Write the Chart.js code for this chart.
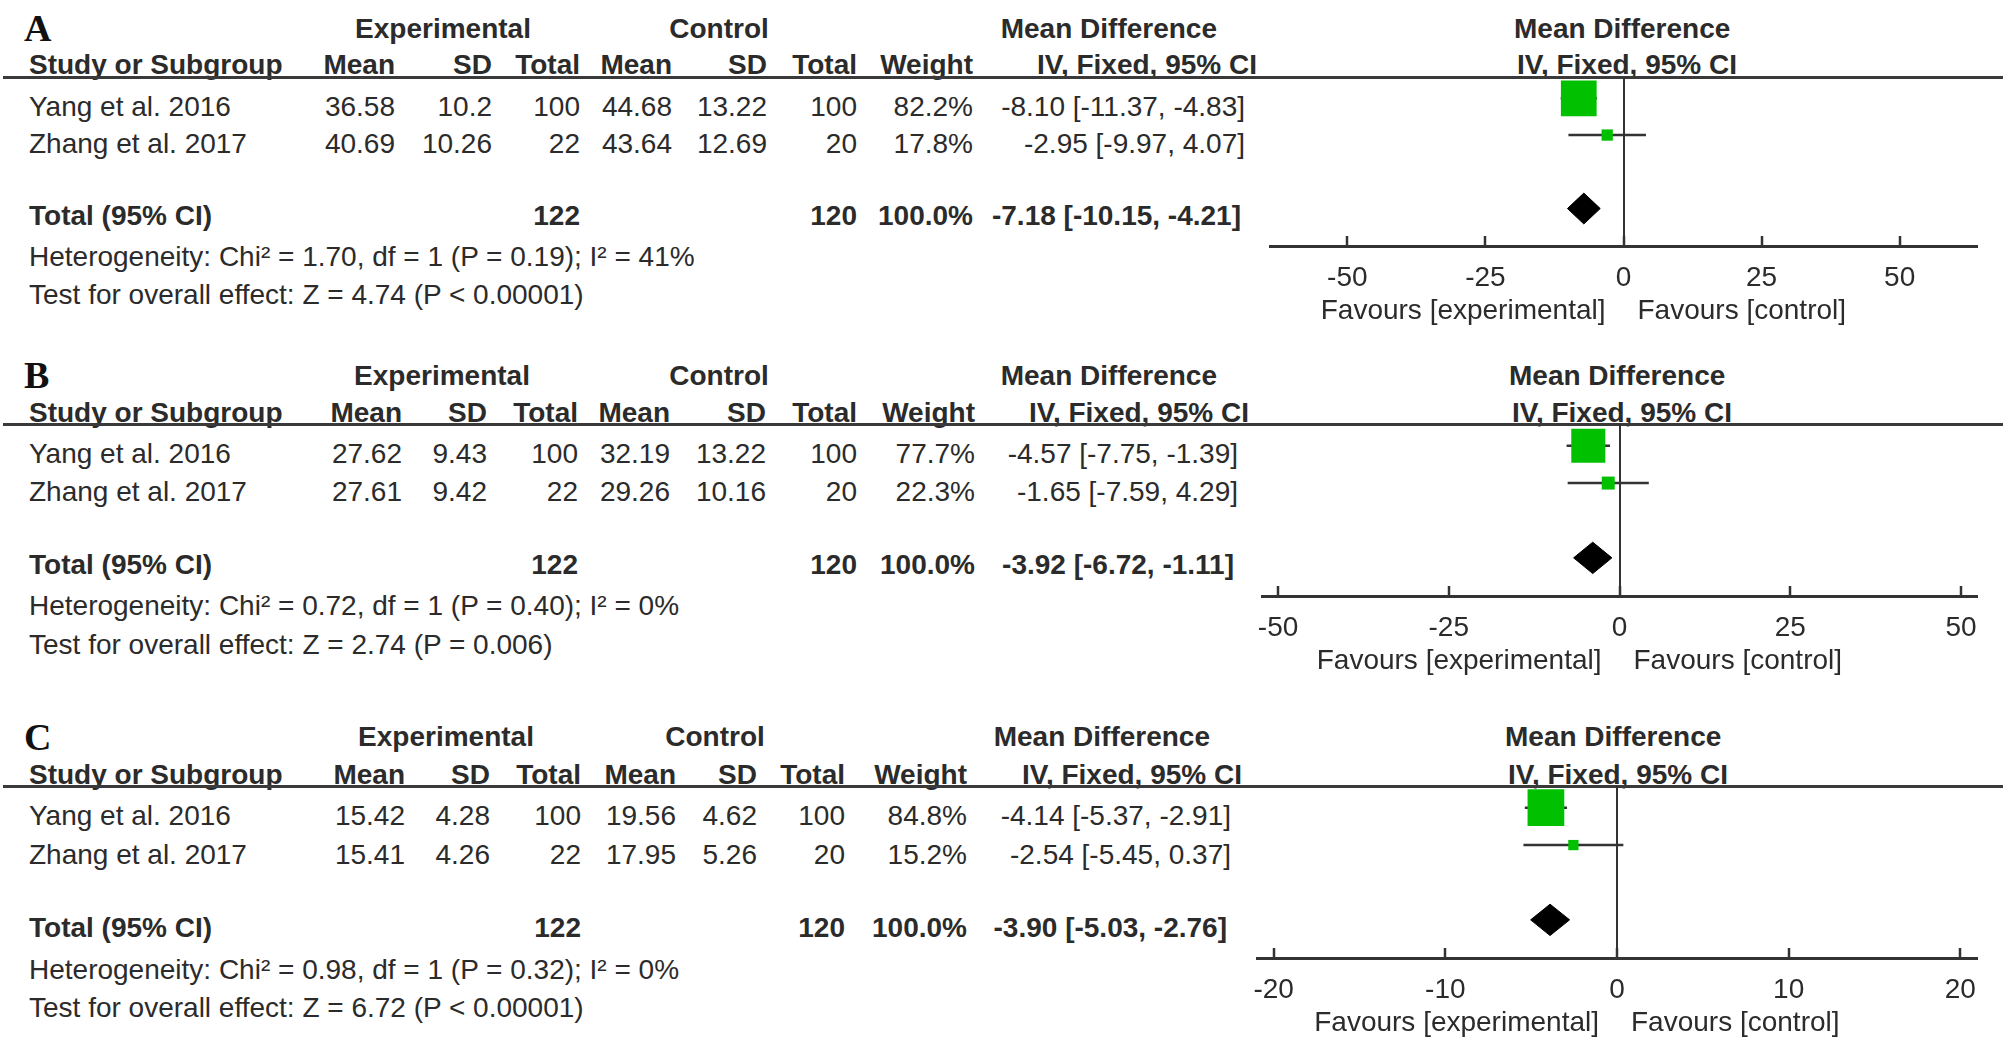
<!DOCTYPE html>
<html>
<head>
<meta charset="utf-8">
<script src="https://cdn.jsdelivr.net/npm/chart.js@4.4.0/dist/chart.umd.min.js"></script>
<style>
  html, body { margin: 0; padding: 0; background: #fff; }
  #page { position: relative; width: 2008px; height: 1055px; overflow: hidden;
          font-family: "Liberation Sans", Arial, sans-serif; color: #2b2b2b; }
  .t { position: absolute; white-space: nowrap; font-size: 28px; line-height: 28px; }
  .b { font-weight: bold; }
  .letter { font-family: "Liberation Serif", "Times New Roman", serif; font-weight: bold;
            font-size: 38px; line-height: 38px; color: #111; }
  .rule { position: absolute; left: 3px; width: 2000px; height: 3px; background: #3a3a3a; }
  canvas { position: absolute; }
</style>
</head>
<body>
<div id="page"></div>
<script>
/* ── data ── */
const studies   = ['Yang et al. 2016', 'Zhang et al. 2017'];
const expTotal  = [100, 22];
const ctrlTotal = [100, 20];

// A
const expMeanA  = [36.58, 40.69];
const expSdA    = [10.2, 10.26];
const ctrlMeanA = [44.68, 43.64];
const ctrlSdA   = [13.22, 12.69];
const weightA   = [82.2, 17.8];
const mdA       = [-8.10, -2.95];
const loA       = [-11.37, -9.97];
const hiA       = [-4.83, 4.07];
const totalA    = [-7.18, -10.15, -4.21];   // estimate, lower, upper
const hetA      = [1.70, 1, 0.19, 41];       // Chi², df, P, I²
const zA        = [4.74, '< 0.00001'];
const ticksA    = [-50, -25, 0, 25, 50];

// B
const expMeanB  = [27.62, 27.61];
const expSdB    = [9.43, 9.42];
const ctrlMeanB = [32.19, 29.26];
const ctrlSdB   = [13.22, 10.16];
const weightB   = [77.7, 22.3];
const mdB       = [-4.57, -1.65];
const loB       = [-7.75, -7.59];
const hiB       = [-1.39, 4.29];
const totalB    = [-3.92, -6.72, -1.11];
const hetB      = [0.72, 1, 0.40, 0];
const zB        = [2.74, '= 0.006'];
const ticksB    = [-50, -25, 0, 25, 50];

// C
const expMeanC  = [15.42, 15.41];
const expSdC    = [4.28, 4.26];
const ctrlMeanC = [19.56, 17.95];
const ctrlSdC   = [4.62, 5.26];
const weightC   = [84.8, 15.2];
const mdC       = [-4.14, -2.54];
const loC       = [-5.37, -5.45];
const hiC       = [-2.91, 0.37];
const totalC    = [-3.90, -5.03, -2.76];
const hetC      = [0.98, 1, 0.32, 0];
const zC        = [6.72, '< 0.00001'];
const ticksC    = [-20, -10, 0, 10, 20];

/* ── layout (pixels) ── */
const panels = [
  { letter: 'A', group: 38.5, col: 74.5, line: 77, axis: 246,
    rows: [116.5, 153.7, 225.4, 266.4, 304.8],
    cols: [395, 492, 580, 672, 767, 857, 973], ci: 1245, ciHead: 1257, mdHead: 1217,
    rMd: 1514, rIv: 1517, expC: 443, ctlC: 719, plot: [1270, 1977], range: 64,
    expMean: expMeanA, expSd: expSdA, ctrlMean: ctrlMeanA, ctrlSd: ctrlSdA, weight: weightA,
    md: mdA, lo: loA, hi: hiA, total: totalA, het: hetA, z: zA, ticks: ticksA },
  { letter: 'B', group: 385.5, col: 422.5, line: 424, axis: 596,
    rows: [463.6, 502, 575, 616, 654.4],
    cols: [402, 487, 578, 670, 766, 857, 975], ci: 1238, ciHead: 1249, mdHead: 1217,
    rMd: 1509, rIv: 1512, expC: 442, ctlC: 719, plot: [1262, 1977], range: 52.35,
    expMean: expMeanB, expSd: expSdB, ctrlMean: ctrlMeanB, ctrlSd: ctrlSdB, weight: weightB,
    md: mdB, lo: loB, hi: hiB, total: totalB, het: hetB, z: zB, ticks: ticksB },
  { letter: 'C', group: 746.7, col: 784.5, line: 786, axis: 958,
    rows: [826, 864.5, 937.5, 979.7, 1018],
    cols: [405, 490, 581, 676, 757, 845, 967], ci: 1231, ciHead: 1242, mdHead: 1210,
    rMd: 1505, rIv: 1508, expC: 446, ctlC: 715, plot: [1257, 1977], range: 20.97,
    expMean: expMeanC, expSd: expSdC, ctrlMean: ctrlMeanC, ctrlSd: ctrlSdC, weight: weightC,
    md: mdC, lo: loC, hi: hiC, total: totalC, het: hetC, z: zC, ticks: ticksC },
];

const PAGE_W = 2008;
const PADL = 40, PADR = 40, PADT = 30, AXH = 90;
const INK = '#2b2b2b', LINE = '#333';

Chart.defaults.font.family = '"Liberation Sans", Arial, sans-serif';
Chart.defaults.color = INK;

const page = document.getElementById('page');

function put(txt, x, base, align, cls) {
  const d = document.createElement('div');
  d.className = 't ' + (cls || '');
  d.textContent = txt;
  const fs = cls === 'letter' ? 38 : 28;
  d.style.top = (base - 0.845 * fs) + 'px';
  if (align === 'right') d.style.right = (PAGE_W - x) + 'px';
  else if (align === 'center') { d.style.left = x + 'px'; d.style.transform = 'translateX(-50%)'; }
  else d.style.left = x + 'px';
  page.appendChild(d);
  return d;
}

const f2 = v => v.toFixed(2);
const ciText = (m, l, h) => `${f2(m)} [${f2(l)}, ${f2(h)}]`;
const sum = a => a.reduce((s, v) => s + v, 0);

/* ── one panel: table text + forest chart ── */
function drawPanel(p) {
  const c = p.cols, r = p.rows;

  put(p.letter, 24, p.group + 3, 'left', 'letter');
  put('Experimental', p.expC, p.group, 'center', 'b');
  put('Control', p.ctlC, p.group, 'center', 'b');
  put('Mean Difference', p.mdHead, p.group, 'right', 'b');
  put('Mean Difference', p.rMd, p.group, 'left', 'b');

  put('Study or Subgroup', 29, p.col, 'left', 'b');
  ['Mean', 'SD', 'Total', 'Mean', 'SD', 'Total', 'Weight'].forEach((h, i) => put(h, c[i], p.col, 'right', 'b'));
  put('IV, Fixed, 95% CI', p.ciHead, p.col, 'right', 'b');
  put('IV, Fixed, 95% CI', p.rIv, p.col, 'left', 'b');

  const rule = document.createElement('div');
  rule.className = 'rule';
  rule.style.top = (p.line - 1.5) + 'px';
  page.appendChild(rule);

  studies.forEach((s, i) => {
    const y = r[i];
    put(s, 29, y);
    put(String(p.expMean[i]), c[0], y, 'right');
    put(String(p.expSd[i]), c[1], y, 'right');
    put(String(expTotal[i]), c[2], y, 'right');
    put(String(p.ctrlMean[i]), c[3], y, 'right');
    put(String(p.ctrlSd[i]), c[4], y, 'right');
    put(String(ctrlTotal[i]), c[5], y, 'right');
    put(p.weight[i].toFixed(1) + '%', c[6], y, 'right');
    put(ciText(p.md[i], p.lo[i], p.hi[i]), p.ci, y, 'right');
  });

  put('Total (95% CI)', 29, r[2], 'left', 'b');
  put(String(sum(expTotal)), c[2], r[2], 'right', 'b');
  put(String(sum(ctrlTotal)), c[5], r[2], 'right', 'b');
  put(sum(p.weight).toFixed(1) + '%', c[6], r[2], 'right', 'b');
  put(ciText(p.total[0], p.total[1], p.total[2]), p.ci - 4, r[2], 'right', 'b');

  const [chi, df, pv, i2] = p.het;
  put(`Heterogeneity: Chi² = ${f2(chi)}, df = ${df} (P = ${f2(pv)}); I² = ${i2}%`, 29, r[3]);
  put(`Test for overall effect: Z = ${f2(p.z[0])} (P ${p.z[1]})`, 29, r[4]);

  /* forest plot */
  const cv = document.createElement('canvas');
  const w = p.plot[1] - p.plot[0] + PADL + PADR;
  const h = PADT + (p.axis - p.line) + AXH;
  cv.width = w; cv.height = h;
  cv.style.left = (p.plot[0] - PADL) + 'px';
  cv.style.top = (p.line - PADT) + 'px';
  cv.style.width = w + 'px'; cv.style.height = h + 'px';
  page.appendChild(cv);

  const totalRow = 3, dh = 0.42;
  const ciSets = studies.map((s, i) => ({
    data: [{ x: p.lo[i], y: i }, { x: p.hi[i], y: i }],
    showLine: true, borderColor: LINE, borderWidth: 2.5, pointRadius: 0, order: 2,
  }));
  const boxes = {
    data: p.md.map((m, i) => ({ x: m, y: i })),
    pointStyle: 'rect',
    pointRadius: p.weight.map(v => (4.5 + 0.38 * v) / Math.SQRT2),
    backgroundColor: '#00c000', borderWidth: 0, order: 1,
  };
  const [est, tlo, thi] = p.total;
  const diamond = {
    data: [{ x: tlo, y: totalRow }, { x: est, y: totalRow - dh }, { x: thi, y: totalRow },
           { x: est, y: totalRow + dh }, { x: tlo, y: totalRow }],
    showLine: true, fill: 'shape', backgroundColor: '#000', borderColor: '#000',
    borderWidth: 1, pointRadius: 0, tension: 0, order: 1,
  };

  const chart = new Chart(cv, {
    type: 'scatter',
    data: { datasets: [...ciSets, boxes, diamond] },
    options: {
      responsive: false, animation: false, events: [],
      layout: { padding: { left: PADL, right: PADR, top: PADT, bottom: 0 }, autoPadding: false },
      plugins: { legend: { display: false }, tooltip: { enabled: false } },
      scales: {
        x: {
          type: 'linear', min: -p.range, max: p.range, position: 'bottom',
          afterBuildTicks: s => { s.ticks = p.ticks.map(v => ({ value: v })); },
          afterFit: s => { s.height = AXH; },
          border: { display: true, width: 3, color: LINE },
          grid: {
            drawOnChartArea: true, drawTicks: true,
            color: ctx => (ctx.tick && ctx.tick.value === 0 ? LINE : 'rgba(0,0,0,0)'),
            lineWidth: 2, tickColor: LINE, tickWidth: 2.5, tickLength: -10,
          },
          ticks: { color: INK, font: { size: 28 }, padding: 25, autoSkip: false, maxRotation: 0,
                   callback: v => String(v) },
        },
        y: { type: 'linear', reverse: true, min: -0.58, max: 4.02, display: false },
      },
    },
  });

  const zx = p.plot[0] - PADL + chart.scales.x.getPixelForValue(0);
  put('Favours [experimental]', zx - 18, p.axis + 73.6, 'right');
  put('Favours [control]', zx + 14, p.axis + 73.6, 'left');
}

panels.forEach(drawPanel);
</script>
</body>
</html>
